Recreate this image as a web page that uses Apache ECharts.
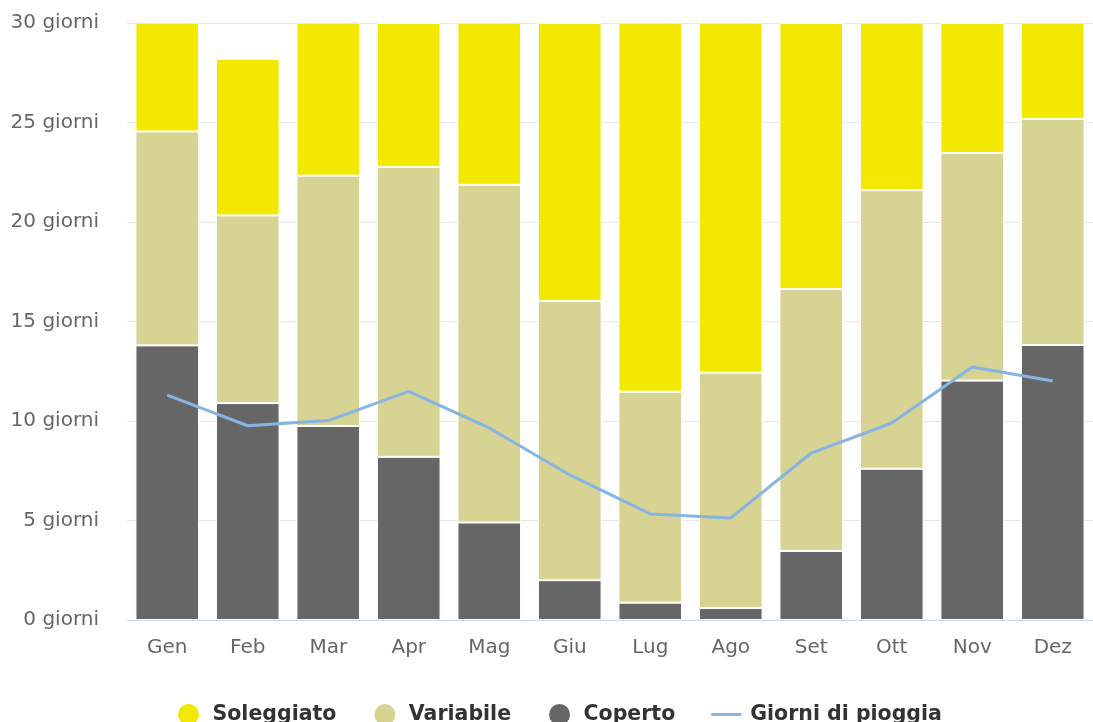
<!DOCTYPE html>
<html>
<head>
<meta charset="utf-8">
<script src="https://cdn.jsdelivr.net/npm/echarts@6/dist/echarts.min.js"></script>
<style>
html,body{margin:0;padding:0;background:#fff;}
#chart{width:1093px;height:722px;}
</style>
</head>
<body>
<div id="chart"></div>
<script>
const months = ['Gen','Feb','Mar','Apr','Mag','Giu','Lug','Ago','Set','Ott','Nov','Dez'];
const coperto = [13.8, 10.9, 9.75, 8.2, 4.9, 2.0, 0.87, 0.6, 3.47, 7.6, 12.03, 13.82];
const variabile = [10.75, 9.43, 12.58, 14.57, 16.97, 14.03, 10.6, 11.83, 13.16, 14.0, 11.44, 11.36];
const soleggiato = [6.45, 7.87, 8.67, 7.23, 9.13, 13.97, 19.53, 18.57, 13.37, 9.4, 6.53, 5.82];
const pioggia = [11.3, 9.76, 10.02, 11.49, 9.65, 7.29, 5.33, 5.13, 8.39, 9.9, 12.71, 12.01];
const yTicks = { min: 0, max: 30, step: 5, unit: 'giorni' };

const chart = echarts.init(document.getElementById('chart'));
const font = 'DejaVu Sans';
const barCommon = {
  type: 'bar',
  stack: 'giorni',
  barCategoryGap: '21%',
  clip: true,
  itemStyle: { borderColor: '#ffffff', borderWidth: 1 },
  emphasis: { disabled: true }
};
chart.setOption({
  animation: false,
  grid: { left: 127, width: 976, top: 23, bottom: 102, containLabel: false },
  legend: {
    top: 697,
    left: 171,
    itemWidth: 30,
    itemHeight: 23,
    itemGap: 36,
    textStyle: { fontFamily: font, fontSize: 20.5, fontWeight: 'bold', color: '#333333', padding: [0, 0, 0, 4] },
    data: [
      { name: 'Soleggiato', icon: 'circle' },
      { name: 'Variabile', icon: 'circle' },
      { name: 'Coperto', icon: 'circle' },
      { name: 'Giorni di pioggia', icon: 'path://M0,0 L30,0 L30,3 L0,3 Z' }
    ]
  },
  xAxis: {
    type: 'category',
    data: months,
    axisLine: { lineStyle: { color: '#ccd6eb', width: 1 } },
    axisTick: { show: false },
    axisLabel: { color: '#666666', fontFamily: font, fontSize: 20, margin: 18 }
  },
  yAxis: {
    type: 'value',
    min: yTicks.min,
    max: yTicks.max,
    interval: yTicks.step,
    axisLine: { show: false },
    axisTick: { show: false },
    splitLine: { lineStyle: { color: '#e6e6e6', width: 1 } },
    axisLabel: {
      color: '#666666', fontFamily: font, fontSize: 20, margin: 28,
      formatter: v => v + ' ' + yTicks.unit
    }
  },
  series: [
    Object.assign({}, barCommon, { name: 'Coperto', data: coperto, itemStyle: Object.assign({}, barCommon.itemStyle, { color: '#666666' }) }),
    Object.assign({}, barCommon, { name: 'Variabile', data: variabile, itemStyle: Object.assign({}, barCommon.itemStyle, { color: '#d6d393' }) }),
    Object.assign({}, barCommon, { name: 'Soleggiato', data: soleggiato, itemStyle: Object.assign({}, barCommon.itemStyle, { color: '#f3e800' }) }),
    {
      name: 'Giorni di pioggia',
      type: 'line',
      data: pioggia,
      showSymbol: false,
      symbol: 'none',
      z: 5,
      lineStyle: { color: '#86b5e3', width: 3 },
      itemStyle: { color: '#86b5e3' },
      emphasis: { disabled: true }
    }
  ]
});
</script>
</body>
</html>
